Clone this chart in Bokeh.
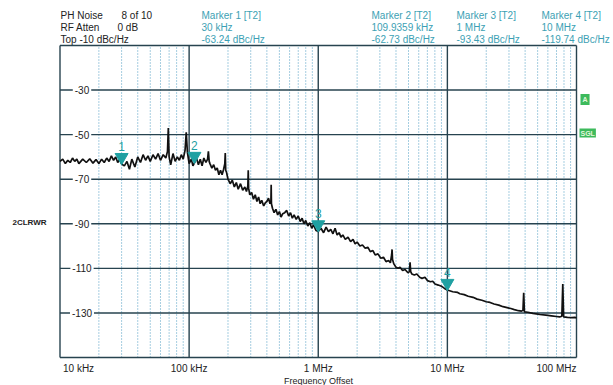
import math
from bokeh.plotting import figure
from bokeh.models import Label, Range1d
from bokeh.core.properties import value
from bokeh.embed import file_html
from bokeh.resources import INLINE

# ---------------- data ----------------
# trace, frequency offset in kHz and phase noise in dBc/Hz, read per decade
dec1_khz = [10, 10.5, 11, 11.5, 12, 12.5, 13, 13.5, 14, 15, 16, 17, 18, 19, 20, 21, 22, 23, 24, 25,
            26, 27, 28, 29, 30, 31.5, 33, 34.5, 36, 38, 40, 42, 44, 46, 48, 50, 52.5, 55, 57.5, 60,
            63, 66, 68, 69, 70, 72, 75, 78, 81, 84, 87, 90, 93, 95, 97, 100]
dec1_dbc = [-62, -61, -63, -61.5, -62.5, -60.5, -62, -61, -63, -61, -62.5, -60.8, -62.8, -61.2, -63, -61, -62.5, -60.5, -62, -59.5,
            -61.5, -60, -62.5, -61, -63.2, -64, -62, -65.5, -61, -64.5, -60, -62.5, -59, -61.5, -59.5, -62, -59, -61, -58.5, -61.5,
            -59, -60.5, -57.5, -47, -60, -63.5, -58.5, -62, -60, -61.5, -59, -61, -57, -49, -58, -63]

dec2_khz = [104, 107, 110, 114, 118, 122, 126, 130, 135, 139, 141, 143, 145, 150, 155, 160, 165, 170, 175, 180,
            185, 189, 190.5, 192, 195, 200, 208, 216, 224, 232, 240, 250, 260, 270, 278, 285, 287, 289, 295, 305,
            315, 325, 335, 345, 355, 365, 378, 390, 400, 412, 423, 430, 432, 434, 442, 455, 470, 485, 500, 515,
            530, 550, 570, 590, 610, 630, 650, 675, 700, 725, 750, 775, 800, 830, 860, 890, 920, 960, 1000]
dec2_dbc = [-61, -64, -62.7, -60.5, -63.5, -61, -64, -60.5, -62.5, -61, -57.5, -62, -63, -65, -63.5, -66, -65, -68, -66, -68,
            -65.5, -63, -58.3, -66, -67, -70, -72, -70.5, -73.5, -71.5, -74.5, -72, -75, -73.5, -75.5, -73, -66, -74, -77, -76,
            -79, -77, -80, -78, -81, -79.5, -82, -80.5, -80, -78.5, -81, -80, -72.5, -81, -83, -85, -83.5, -86, -84.5, -87,
            -85.5, -85, -84, -86.5, -85, -87.5, -86, -88, -86.5, -89, -87.5, -90, -88.5, -91, -89.5, -92, -90.5, -93, -93.4]

dec3_khz = [1050, 1100, 1150, 1200, 1250, 1300, 1350, 1400, 1450, 1500, 1550, 1620, 1700, 1780, 1860, 1930, 2000, 2100, 2200, 2310,
            2420, 2530, 2650, 2760, 2900, 3050, 3200, 3350, 3500, 3620, 3700, 3730, 3760, 3850, 4000, 4150, 4300, 4500, 4700, 4950,
            5080, 5140, 5200, 5300, 5550, 5800, 6100, 6360, 6700, 7000, 7400, 7700, 8020, 8500, 9000, 9500, 10000]
dec3_dbc = [-92, -94, -91.5, -93.5, -92.5, -94.5, -92, -95, -94, -96, -95, -97, -96, -98, -97, -99, -98.2, -100, -99.5, -101,
            -100.5, -102.5, -102, -104, -103.5, -105.5, -105, -107, -106.5, -107.5, -104, -101.5, -106, -108, -109.5, -110, -109.5, -111, -110.5, -112,
            -111.5, -107.3, -111.5, -112.5, -113, -112.5, -114, -114.5, -114, -115.5, -116, -115.8, -117, -117.5, -118, -119, -119.7]

dec4_khz = [11000, 12000, 12500, 13500, 14500, 15800, 17000, 18500, 20000, 21400, 23000, 25000, 27000, 29000, 31000, 33000, 35500, 37500, 38500, 39000,
            39500, 42000, 46000, 52000, 58000, 64000, 70000, 74000, 77000, 78300, 79500, 85000, 92000, 97000, 100000]
dec4_dbc = [-120.5, -120.8, -121.4, -121.8, -122.5, -123, -123.8, -124.3, -125, -125.3, -126, -126.5, -127.2, -127.6, -128, -128.5, -129, -129.2, -128.8, -121,
            -129.5, -129.7, -130.2, -130.7, -131, -131.3, -131.6, -131.8, -131.5, -117, -131.8, -132, -132.1, -132, -132.2]

marker_ids = ["1", "2", "3", "4"]
marker_khz = [30, 109.9359, 1000, 10000]
marker_dbc = [-63.24, -62.73, -93.43, -119.74]
marker_titles = ["Marker 1 [T2]", "Marker 2 [T2]", "Marker 3 [T2]", "Marker 4 [T2]"]
marker_freq_text = ["30 kHz", "109.9359 kHz", "1 MHz", "10 MHz"]
marker_level_text = ["-63.24 dBc/Hz", "-62.73 dBc/Hz", "-93.43 dBc/Hz", "-119.74 dBc/Hz"]

header_names = ["PH Noise", "RF Atten", "Top -10 dBc/Hz"]
header_values = ["8 of 10", "0 dB", ""]

y_grid = [-150, -130, -110, -90, -70, -50, -30, -10]
y_labels = [-130, -110, -90, -70, -50, -30]
x_decades_khz = [10, 100, 1000, 10000, 100000]
x_labels = ["10 kHz", "100 kHz", "1 MHz", "10 MHz", "100 MHz"]
minor_mult = [2, 3, 4, 5, 6, 7, 8, 9]

# ---------------- layout / styling ----------------
W, H = 613, 385
PX_L, PX_R, PX_T, PX_B = 59.5, 576.0, 45.0, 357.0   # graticule box in page pixels
FONT = "Liberation Sans"
TEAL_TXT = "#3c9fb4"
TEAL_MK = "#1fa0a2"
GRID = "#27434f"
MINOR = "#4d9cc2"
TXT = "#222222"

lx0, lx1 = math.log10(x_decades_khz[0]), math.log10(x_decades_khz[-1])
dlx = (lx1 - lx0) / (PX_R - PX_L)
x_start = 10 ** (lx0 - PX_L * dlx)
x_end = 10 ** (lx1 + (W - PX_R) * dlx)
y_top, y_bot = y_grid[-1], y_grid[0]
ddb = (y_top - y_bot) / (PX_B - PX_T)
y_end = y_top + PX_T * ddb
y_start = y_bot - (H - PX_B) * ddb

p = figure(width=W, height=H, x_axis_type="log",
           x_range=Range1d(x_start, x_end), y_range=Range1d(y_start, y_end),
           output_backend="svg", toolbar_location=None,
           min_border=0, min_border_left=0, min_border_right=0, min_border_top=0, min_border_bottom=0,
           background_fill_color="white", border_fill_color="white")
p.xaxis.visible = False
p.yaxis.visible = False
p.xgrid.visible = False
p.ygrid.visible = False
p.outline_line_color = None

trace_khz = dec1_khz + dec2_khz + dec3_khz + dec4_khz
trace_dbc = dec1_dbc + dec2_dbc + dec3_dbc + dec4_dbc

# graticule
minor_ticks = [d * m for d in x_decades_khz[:-1] for m in minor_mult]
p.segment(x0=minor_ticks, y0=[y_bot] * len(minor_ticks), x1=minor_ticks, y1=[y_top] * len(minor_ticks),
          line_color=MINOR, line_dash="1 2", line_width=1)
p.segment(x0=[x_decades_khz[0]] * len(y_grid), y0=y_grid, x1=[x_decades_khz[-1]] * len(y_grid), y1=y_grid,
          line_color=GRID, line_width=1.4)
p.segment(x0=x_decades_khz, y0=[y_bot] * len(x_decades_khz), x1=x_decades_khz, y1=[y_top] * len(x_decades_khz),
          line_color=GRID, line_width=1.4)

# trace
p.line(trace_khz, trace_dbc, line_color="#111111", line_width=1.7)

# markers: inverted triangles whose tip sits on the value
tri_y = [v + 3.1 for v in marker_dbc]
p.scatter(marker_khz, tri_y, marker="inverted_triangle", size=13,
          fill_color=TEAL_MK, line_color=TEAL_MK)
p.text(marker_khz, marker_dbc, text=marker_ids, y_offset=-13,
       text_align="center", text_baseline="bottom", text_color=TEAL_MK,
       text_font_size="12px", text_font=value(FONT))

def lab(x, y, text, xu="screen", yu="screen", **kw):
    opts = dict(text_font=FONT, text_font_size="10px", text_color=TXT, text_baseline="middle")
    opts.update(kw)
    p.add_layout(Label(x=x, y=y, x_units=xu, y_units=yu, text=text, **opts))

# y labels inside the graticule
for v in y_labels:
    lab(81.5, v, str(v), yu="data", text_align="center",
        background_fill_color="white", padding=2)

# x labels below the graticule
for i, (xv, t) in enumerate(zip(x_decades_khz, x_labels)):
    align = "left" if i == 0 else ("right" if i == len(x_labels) - 1 else "center")
    lab(xv, H - 368, t, xu="data", text_align=align, x_offset=3 if i == 0 else 0)
lab(318, H - 380, "Frequency Offset", text_align="center", text_font_size="9px")

# header
rows_y = [H - 15, H - 27, H - 39]
value_x = [121, 117]
for i in range(3):
    lab(PX_L + 0.5, rows_y[i], header_names[i])
    if header_values[i]:
        lab(value_x[i], rows_y[i], header_values[i])
marker_x = [201, 371, 456, 541]
for j in range(4):
    for i, txt in enumerate([marker_titles[j], marker_freq_text[j], marker_level_text[j]]):
        lab(marker_x[j], rows_y[i], txt, text_color=TEAL_TXT)

# side annotations
lab(12, H - 222, "2CLRWR", text_font_size="8px", text_font_style="bold")
lab(580, H - 99, "A", text_font_size="7px", text_font_style="bold", text_color="#e4f7dc",
    background_fill_color="#3dba5c", padding=2)
lab(579, H - 132.5, "SGL", text_font_size="7px", text_font_style="bold", text_color="#e4f7dc",
    background_fill_color="#3dba5c", padding=1)

open("out.html", "w").write(file_html(p, INLINE))
